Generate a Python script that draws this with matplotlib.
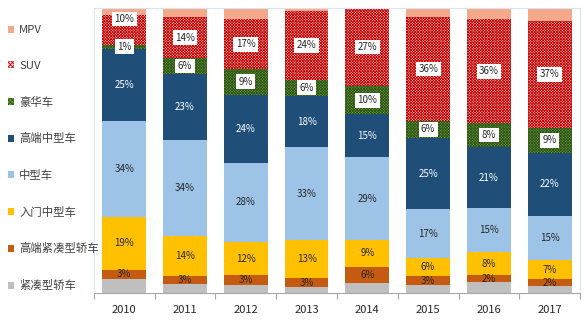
import matplotlib
matplotlib.use("Agg")
import matplotlib.pyplot as plt
from matplotlib.patches import Patch
import numpy as np

plt.rcParams['font.family'] = ['Noto Sans CJK SC', 'DejaVu Sans']
plt.rcParams['hatch.linewidth'] = 0.6

years = ['2010', '2011', '2012', '2013', '2014', '2015', '2016', '2017']

# market share by segment (%), bottom of stack first
compact        = [4.9, 3.2, 2.8, 2.1, 3.5, 2.9, 3.8, 2.4]
compact_high   = [3.2, 2.8, 3.4, 3.1, 5.7, 2.9, 2.4, 2.4]
midsize_entry  = [18.6, 14.0, 11.7, 13.2, 9.4, 6.4, 8.2, 6.8]
midsize        = [33.8, 33.6, 27.8, 32.7, 29.0, 17.2, 15.4, 15.4]
midsize_high   = [25.2, 23.2, 23.8, 18.0, 15.1, 25.0, 21.4, 22.2]
luxury         = [1.3, 5.7, 9.1, 5.7, 9.9, 6.0, 8.4, 8.8]
suv            = [10.4, 14.2, 17.4, 24.2, 27.4, 36.4, 36.4, 37.4]
mpv            = [2.6, 3.3, 4.0, 1.0, 0.0, 3.2, 4.0, 4.6]

series = [
    # name, values, face colour, hatch colour, hatch, label style
    ('紧凑型轿车',   compact,       '#bfbfbf', None,      None,    None),
    ('高端紧凑型轿车', compact_high,  '#c55a11', None,      None,    'dark'),
    ('入门中型车',   midsize_entry, '#ffc000', None,      None,    'dark'),
    ('中型车',      midsize,       '#9dc3e6', None,      None,    'dark'),
    ('高端中型车',   midsize_high,  '#1f4e79', None,      None,    'light'),
    ('豪华车',      luxury,        '#6aa03a', '#2f5518', 'x' * 12, 'box'),
    ('SUV',        suv,           '#f8dada', '#c80000', 'x' * 12, 'box'),
    ('MPV',        mpv,           '#f4a98a', None,      None,    None),
]

# nudge for labels that would collide with a neighbour (points)
label_shift = {('SUV', 0): 8}

fig = plt.figure(figsize=(5.86, 3.31), dpi=100)
ax = fig.add_axes([0.160, 0.115, 0.830, 0.861])

x = np.arange(len(years))
width = 0.72
bottom = np.zeros(len(years))
handles = []
for name, vals, face, hcol, hatch, lstyle in series:
    vals = np.array(vals, dtype=float)
    if hatch:
        ax.bar(x, vals, width, bottom=bottom, facecolor=face,
               edgecolor=hcol, hatch=hatch, linewidth=0)
        handles.append(Patch(facecolor=face, edgecolor=hcol, hatch='x' * 8,
                             linewidth=0, label=name))
    else:
        ax.bar(x, vals, width, bottom=bottom, color=face, linewidth=0)
        handles.append(Patch(facecolor=face, linewidth=0, label=name))
    if lstyle:
        for i, v in enumerate(vals):
            if v <= 0:
                continue
            yc = bottom[i] + v / 2
            txt = f'{int(round(v))}%'
            dy = label_shift.get((name, i), 0)
            kw = dict(ha='center', va='center', fontsize=7, zorder=5)
            if lstyle == 'light':
                kw['color'] = 'white'
            elif lstyle == 'box':
                kw['color'] = '#262626'
                kw['bbox'] = dict(boxstyle='square,pad=0.25', fc='white',
                                  ec='none')
            else:
                kw['color'] = '#262626'
            ax.annotate(txt, (x[i], yc), xytext=(0, dy),
                        textcoords='offset points', **kw)
    bottom += vals

ax.set_xlim(-0.5, len(years) - 0.5)
ax.set_ylim(0, 100)
ax.set_yticks([])
ax.set_xticks(x)
ax.set_xticklabels(years, fontsize=8, color='#262626')
ax.set_xticks(np.arange(len(years) + 1) - 0.5, minor=True)
ax.tick_params(axis='x', which='major', length=0, pad=9)
ax.tick_params(axis='x', which='minor', length=4, color='#a6a6a6', width=0.8)
for s in ['left', 'right', 'top']:
    ax.spines[s].set_color('#dae3f0')
    ax.spines[s].set_linewidth(0.8)
ax.spines['bottom'].set_color('#a6a6a6')
ax.spines['bottom'].set_linewidth(0.8)

leg = fig.legend(handles=handles[::-1], loc='upper left',
                 bbox_to_anchor=(0.0, 0.948), frameon=False, fontsize=8.2,
                 handlelength=0.55, handleheight=0.55, handletextpad=0.45,
                 labelspacing=2.25, borderaxespad=0.3)
for t in leg.get_texts():
    t.set_color('#404040')

fig.savefig('out.png', dpi=100)
